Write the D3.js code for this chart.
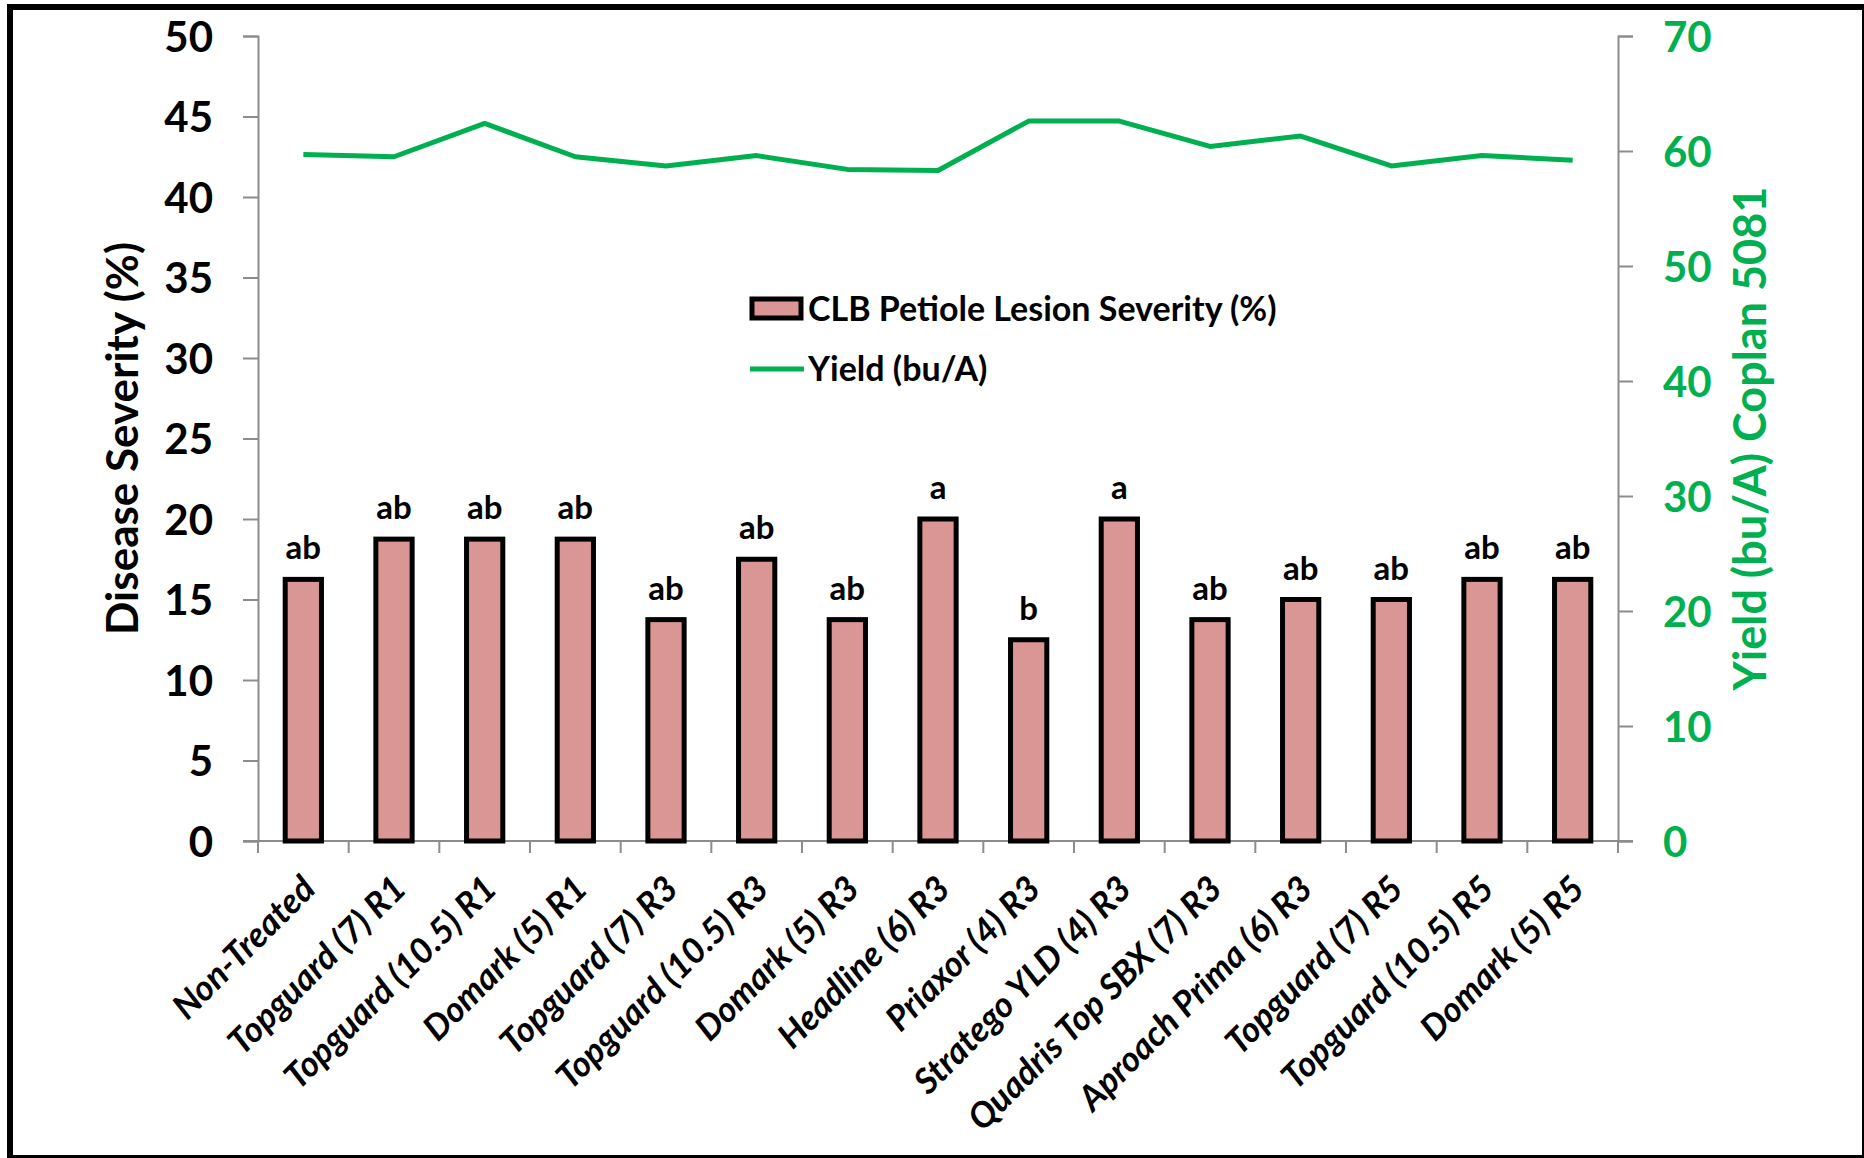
<!DOCTYPE html>
<html lang="en">
<head>
  <meta charset="utf-8">
  <title>CLB Petiole Lesion Severity and Yield</title>
  <script src="https://d3js.org/d3.v7.min.js"></script>
  <style>
    body { margin: 0; background: #fff; }
    svg { display: block; font-family: Lato, "Open Sans", sans-serif; }
  </style>
</head>
<body>
  <svg id="chart"></svg>

  <script>
    // data
    const categories = [
      "Non-Treated", "Topguard (7) R1", "Topguard (10.5) R1", "Domark (5) R1",
      "Topguard (7) R3", "Topguard (10.5) R3", "Domark (5) R3", "Headline (6) R3",
      "Priaxor (4) R3", "Stratego YLD (4) R3", "Quadris Top SBX (7) R3",
      "Aproach Prima (6) R3", "Topguard (7) R5", "Topguard (10.5) R5", "Domark (5) R5"
    ];
    const severity = [16.25, 18.75, 18.75, 18.75, 13.75, 17.5, 13.75, 20, 12.5, 20, 13.75, 15, 15, 16.25, 16.25];
    const letters = ["ab", "ab", "ab", "ab", "ab", "ab", "ab", "a", "b", "a", "ab", "ab", "ab", "ab", "ab"];
    const yieldBuA = [59.7, 59.5, 62.4, 59.5, 58.7, 59.6, 58.4, 58.3, 62.6, 62.6, 60.4, 61.3, 58.7, 59.6, 59.2];
    const leftTicks = d3.range(0, 51, 5);
    const rightTicks = d3.range(0, 71, 10);

    const width = 1864, height = 1158;
    const plot = { left: 258, right: 1618, top: 36, bottom: 841 };
    const green = "#00B050";
    const axisGrey = "#8c8c8c";

    const svg = d3.select("#chart")
        .attr("width", width)
        .attr("height", height);

    // frame
    svg.append("rect")
        .attr("x", 10).attr("y", 7)
        .attr("width", 1855).attr("height", 1151)
        .attr("fill", "none")
        .attr("stroke", "#000")
        .attr("stroke-width", 6);

    const x = d3.scaleBand()
        .domain(categories)
        .range([plot.left, plot.right])
        .paddingInner(0.6)
        .paddingOuter(0.3);

    const yL = d3.scaleLinear().domain([0, 50]).range([plot.bottom, plot.top]);
    const yR = d3.scaleLinear().domain([0, 70]).range([plot.bottom, plot.top]);

    // left axis
    const leftAxis = svg.append("g")
        .attr("transform", `translate(${plot.left},0)`)
        .call(d3.axisLeft(yL).tickValues(leftTicks).tickSize(15).tickPadding(30));
    leftAxis.select(".domain").attr("stroke", axisGrey).attr("stroke-width", 2);
    leftAxis.selectAll(".tick line").attr("stroke", axisGrey).attr("stroke-width", 2);
    leftAxis.selectAll(".tick text")
        .attr("font-family", "Lato, sans-serif")
        .attr("font-size", 42)
        .attr("font-weight", "bold")
        .attr("fill", "#000")
        .attr("dy", "0.36em");

    // right axis
    const rightAxis = svg.append("g")
        .attr("transform", `translate(${plot.right},0)`)
        .call(d3.axisRight(yR).tickValues(rightTicks).tickSize(15).tickPadding(30));
    rightAxis.select(".domain").attr("stroke", axisGrey).attr("stroke-width", 2);
    rightAxis.selectAll(".tick line").attr("stroke", axisGrey).attr("stroke-width", 2);
    rightAxis.selectAll(".tick text")
        .attr("font-family", "Lato, sans-serif")
        .attr("font-size", 42)
        .attr("font-weight", "bold")
        .attr("fill", green)
        .attr("dy", "0.36em");

    // x axis: ticks at the band edges
    const step = x.step();
    const edges = d3.range(categories.length + 1).map(i => plot.left + i * step);
    const xAxis = svg.append("g");
    xAxis.append("line")
        .attr("x1", plot.left - 15).attr("x2", plot.right + 15)
        .attr("y1", plot.bottom).attr("y2", plot.bottom)
        .attr("stroke", axisGrey).attr("stroke-width", 2);
    xAxis.selectAll("line.tk")
      .data(edges)
      .join("line")
        .attr("class", "tk")
        .attr("x1", d => d).attr("x2", d => d)
        .attr("y1", plot.bottom).attr("y2", plot.bottom + 12)
        .attr("stroke", axisGrey).attr("stroke-width", 2);

    // bars
    svg.append("g")
      .selectAll("rect")
      .data(categories)
      .join("rect")
        .attr("x", d => x(d))
        .attr("y", (d, i) => yL(severity[i]))
        .attr("width", x.bandwidth())
        .attr("height", (d, i) => yL(0) - yL(severity[i]))
        .attr("fill", "#D99694")
        .attr("stroke", "#000")
        .attr("stroke-width", 5);

    // significance letters
    svg.append("g")
      .selectAll("text")
      .data(categories)
      .join("text")
        .attr("x", d => x(d) + x.bandwidth() / 2)
        .attr("y", (d, i) => yL(severity[i]) - 20)
        .attr("text-anchor", "middle")
        .attr("font-size", 33)
        .attr("font-weight", "bold")
        .text((d, i) => letters[i]);

    // category labels
    svg.append("g")
      .selectAll("text")
      .data(categories)
      .join("text")
        .attr("transform", d => `translate(${x(d) + x.bandwidth() / 2 + 14},${plot.bottom + 50}) rotate(-45)`)
        .attr("text-anchor", "end")
        .attr("font-size", 35)
        .attr("font-weight", "bold")
        .attr("font-style", "italic")
        .text(d => d);

    // yield line
    const line = d3.line()
        .x((d, i) => x(categories[i]) + x.bandwidth() / 2)
        .y(d => yR(d));
    svg.append("path")
        .datum(yieldBuA)
        .attr("d", line)
        .attr("fill", "none")
        .attr("stroke", green)
        .attr("stroke-width", 5)
        .attr("stroke-linejoin", "round");

    // axis titles
    svg.append("text")
        .attr("transform", `translate(138,${(plot.top + plot.bottom) / 2}) rotate(-90)`)
        .attr("text-anchor", "middle")
        .attr("font-size", 44)
        .attr("font-weight", "bold")
        .text("Disease Severity (%)");

    svg.append("text")
        .attr("transform", `translate(1766,${(plot.top + plot.bottom) / 2}) rotate(-90)`)
        .attr("text-anchor", "middle")
        .attr("font-size", 45)
        .attr("font-weight", "bold")
        .attr("fill", green)
        .text("Yield (bu/A) Coplan 5081");

    // legend
    const legend = svg.append("g").attr("transform", "translate(752,0)");
    legend.append("rect")
        .attr("x", 0).attr("y", 299)
        .attr("width", 49).attr("height", 19)
        .attr("fill", "#D99694")
        .attr("stroke", "#000")
        .attr("stroke-width", 5);
    legend.append("text")
        .attr("x", 56).attr("y", 321)
        .attr("font-size", 34)
        .attr("font-weight", "bold")
        .text("CLB Petiole Lesion Severity (%)");
    legend.append("line")
        .attr("x1", -2).attr("x2", 52)
        .attr("y1", 369).attr("y2", 369)
        .attr("stroke", green)
        .attr("stroke-width", 5);
    legend.append("text")
        .attr("x", 56).attr("y", 381)
        .attr("font-size", 34)
        .attr("font-weight", "bold")
        .text("Yield (bu/A)");
  </script>
</body>
</html>
